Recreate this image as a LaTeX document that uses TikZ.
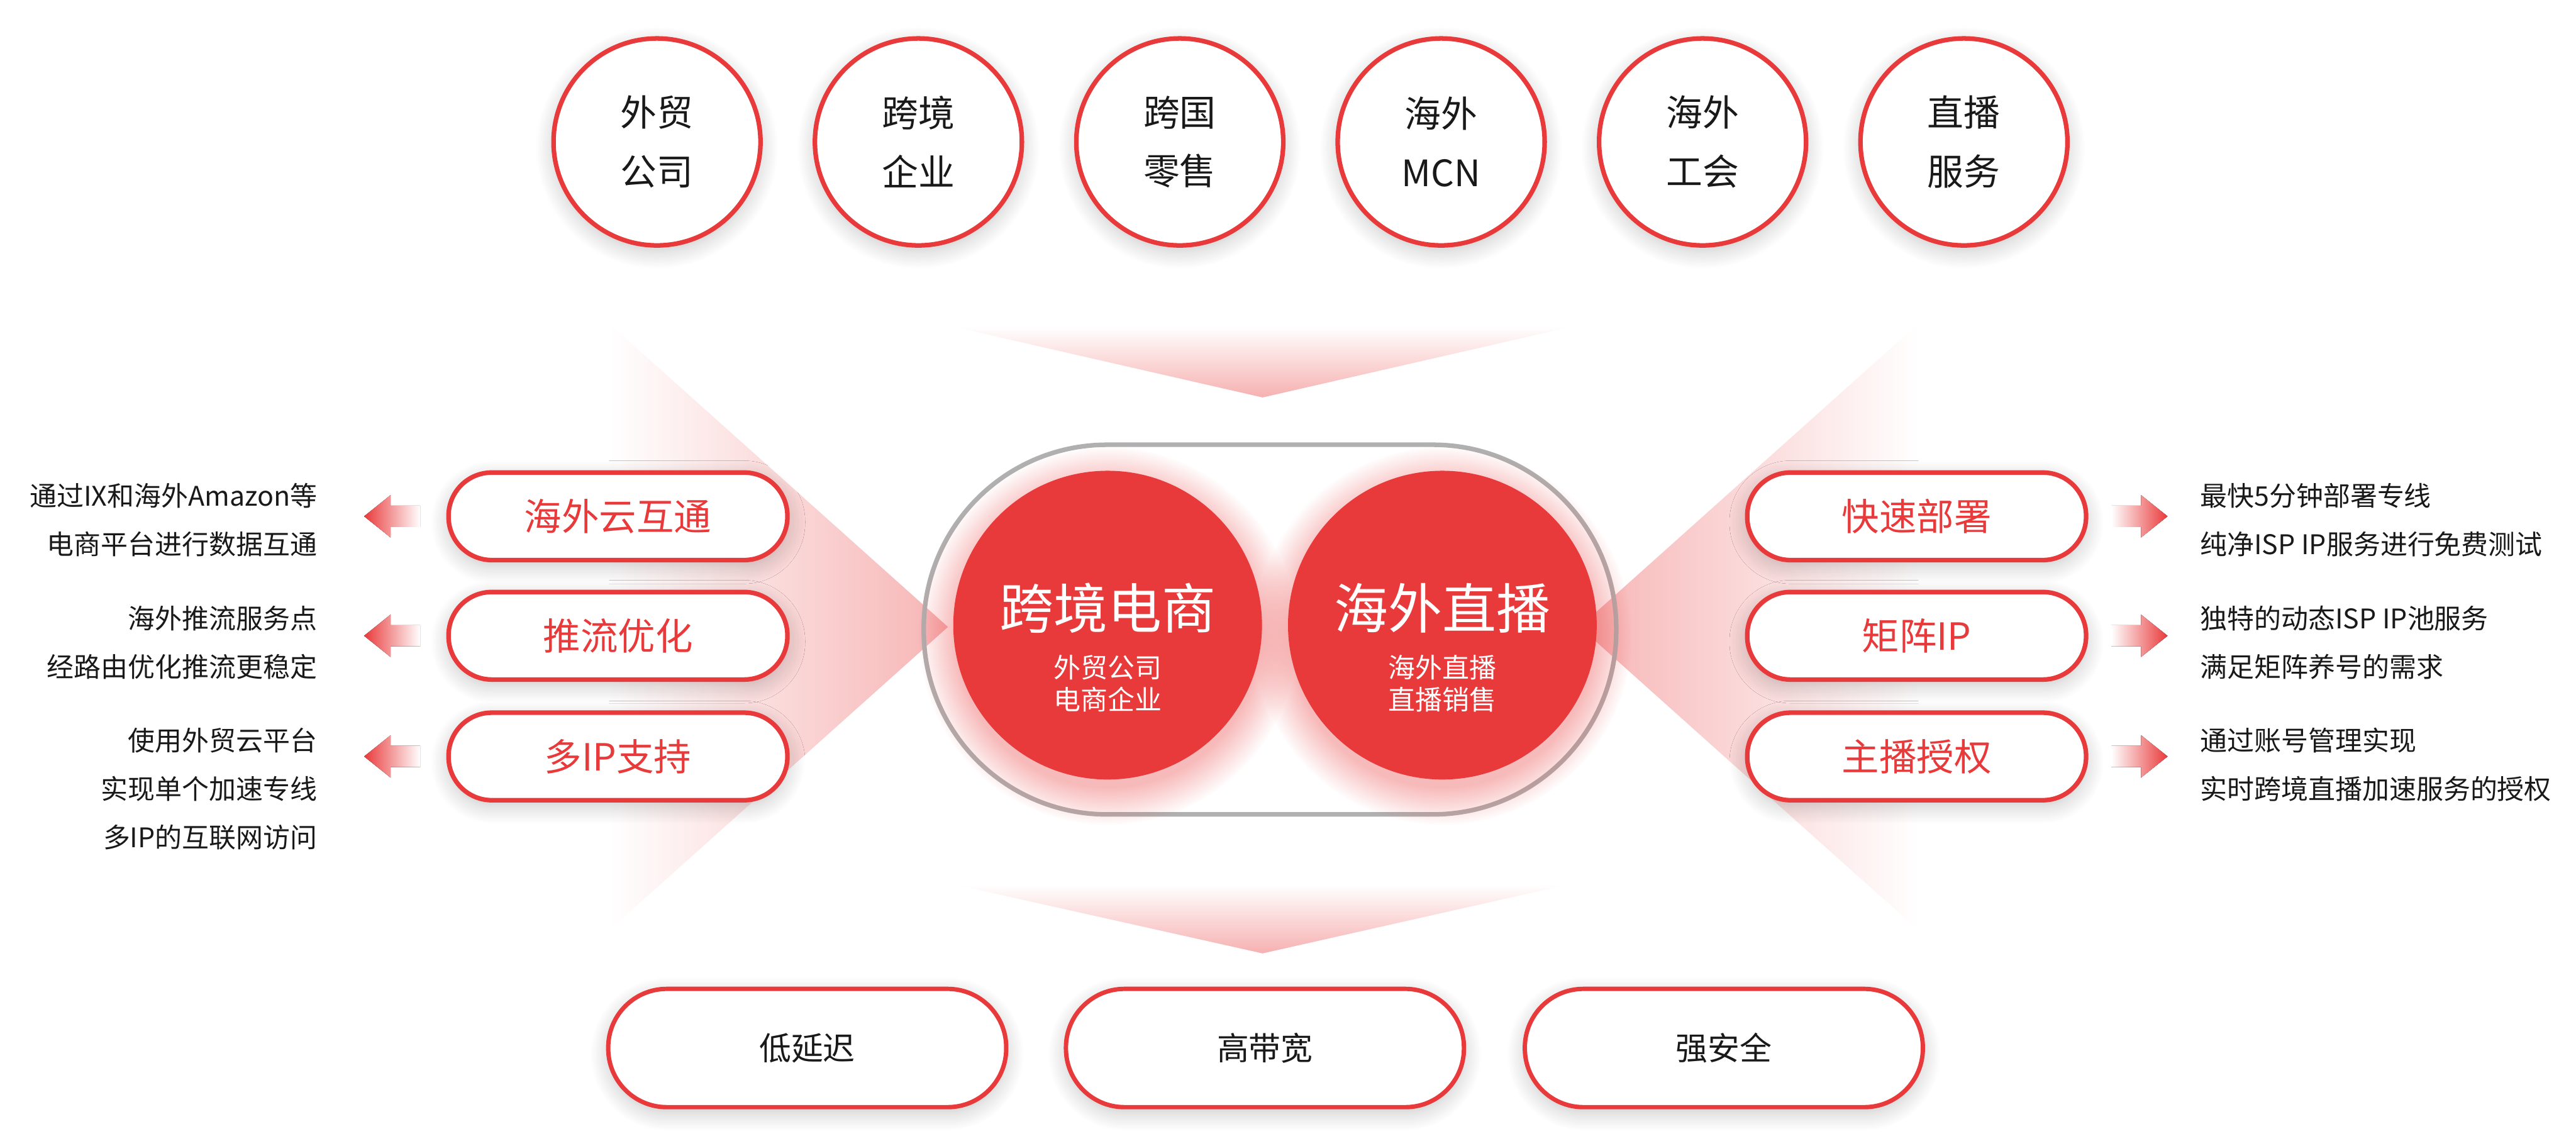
\documentclass[tikz,border=0pt]{standalone}
\usepackage{fontspec}
\setmainfont{Noto Sans CJK SC}
\usetikzlibrary{positioning,shadows.blur,fadings}

\definecolor{cRed}{RGB}{233,58,59}
\definecolor{cInk}{RGB}{25,25,25}
\definecolor{cRing}{RGB}{176,176,176}

\tikzset{
  soft/.style={blur shadow={shadow xshift=0pt, shadow yshift=-1mm,
      shadow blur radius=3mm, shadow blur steps=12, shadow opacity=22}},
  client/.style={circle, draw=cRed, line width=2.2pt, fill=white, soft,
      minimum size=3.5cm, align=center, text=cInk,
      font=\fontsize{17.5}{28.4}\selectfont},
  ring/.style={rectangle, draw=cRing, line width=2.2pt, rounded corners=3.1cm,
      minimum width=11.71cm, minimum height=6.25cm},
  hub/.style={circle, fill=cRed, minimum size=5.22cm},
  hubtitle/.style={text=white, font=\fontsize{26}{30}\selectfont},
  hubsub/.style={text=white, align=center, font=\fontsize{13}{15.4}\selectfont},
  feature/.style={rectangle, draw=cRed, line width=2.2pt, fill=white, soft,
      rounded corners=7.3mm, minimum width=5.73cm, minimum height=1.48cm,
      text=cRed, font=\fontsize{18}{20}\selectfont},
  merit/.style={rectangle, draw=cRed, line width=2.1pt, fill=white, soft,
      rounded corners=9.9mm, minimum width=6.73cm, minimum height=2.0cm,
      text=cInk, font=\fontsize{15.4}{18}\selectfont},
  note/.style={text=cInk, font=\fontsize{13}{23.3}\selectfont},
  pics/pointleft/.style={code={
      \fill[left color=cRed, right color=white]
        (0,0) -- (0.45,0.36) -- (0.45,0.18) -- (0.95,0.18)
        -- (0.95,-0.18) -- (0.45,-0.18) -- (0.45,-0.36) -- cycle;
  }},
  pics/pointright/.style={code={
      \fill[right color=cRed, left color=white]
        (0,0) -- (-0.45,0.36) -- (-0.45,0.18) -- (-0.95,0.18)
        -- (-0.95,-0.18) -- (-0.45,-0.18) -- (-0.45,-0.36) -- cycle;
  }},
}

\begin{document}
\begin{tikzpicture}
    \useasboundingbox (0,0) rectangle (43.56,19.37);
    % Light beams
    \shade[left color=white, right color=cRed!38] (10.30,13.90) -- (16.03,8.77) -- (10.30,3.64) -- cycle;
    \shade[right color=white, left color=cRed!38] (32.44,13.90) -- (26.71,8.77) -- (32.44,3.64) -- cycle;
    \shade[top color=white, bottom color=cRed!40] (16.10,13.85) -- (26.60,13.85) -- (21.35,12.65) -- cycle;
    \shade[top color=white, bottom color=cRed!40] (16.16,4.41) -- (26.50,4.41) -- (21.35,3.25) -- cycle;
    % Clients
    \node[client] (c1) at (11.11,16.97) {外贸\\公司};
    \node[client] (c2) at (15.53,16.97) {跨境\\企业};
    \node[client] (c3) at (19.95,16.97) {跨国\\零售};
    \node[client] (c4) at (24.37,16.97) {海外\\MCN};
    \node[client] (c5) at (28.79,16.97) {海外\\工会};
    \node[client] (c6) at (33.21,16.97) {直播\\服务};
    % Hub
    \node[ring] (ring) at (21.475,8.725) {};
    \fill[cRed, opacity=0.35, path fading=circle with fuzzy edge 20 percent] (18.73,8.62) circle (3.2);
    \fill[cRed, opacity=0.35, path fading=circle with fuzzy edge 20 percent] (24.39,8.62) circle (3.2);
    \node[hub] (ec) at (18.73,8.80) {};
    \node[hub] (live) at (24.39,8.80) {};
    \node[hubtitle] at ([yshift=2.9mm]ec.center) {跨境电商};
    \node[hubsub] at ([yshift=-9.9mm]ec.center) {外贸公司\\电商企业};
    \node[hubtitle] at ([yshift=2.9mm]live.center) {海外直播};
    \node[hubsub] at ([yshift=-9.9mm]live.center) {海外直播\\直播销售};
    % Left features
    \node[feature] (f1) at (10.45,10.64) {海外云互通};
    \node[feature] (f2) at (10.45,8.62) {推流优化};
    \node[feature] (f3) at (10.45,6.58) {多IP支持};
    \pic at ([xshift=-13.9mm]f1.west) {pointleft};
    \pic at ([xshift=-13.9mm]f2.west) {pointleft};
    \pic at ([xshift=-13.9mm]f3.west) {pointleft};
    \node[note, anchor=east, align=right] (n1) at (5.49,10.58) {通过IX和海外Amazon等\\电商平台进行数据互通};
    \node[note, anchor=east, align=right] (n2) at (5.49,8.50) {海外推流服务点\\经路由优化推流更稳定};
    \node[note, anchor=east, align=right] (n3) at (5.49,6.03) {使用外贸云平台\\实现单个加速专线\\多IP的互联网访问};
    % Right features
    \node[feature] (f4) at (32.41,10.64) {快速部署};
    \node[feature] (f5) at (32.41,8.62) {矩阵IP};
    \node[feature] (f6) at (32.41,6.58) {主播授权};
    \pic at ([xshift=13.4mm]f4.east) {pointright};
    \pic at ([xshift=13.4mm]f5.east) {pointright};
    \pic at ([xshift=13.4mm]f6.east) {pointright};
    \node[note, anchor=west, align=left] (n4) at (37.08,10.58) {最快5分钟部署专线\\纯净ISP IP服务进行免费测试};
    \node[note, anchor=west, align=left] (n5) at (37.08,8.50) {独特的动态ISP IP池服务\\满足矩阵养号的需求};
    \node[note, anchor=west, align=left] (n6) at (37.08,6.44) {通过账号管理实现\\实时跨境直播加速服务的授权};
    % Merits
    \node[merit] (m1) at (13.65,1.65) {低延迟};
    \node[merit] (m2) at (21.39,1.65) {高带宽};
    \node[merit] (m3) at (29.15,1.65) {强安全};
\end{tikzpicture}
\end{document}
